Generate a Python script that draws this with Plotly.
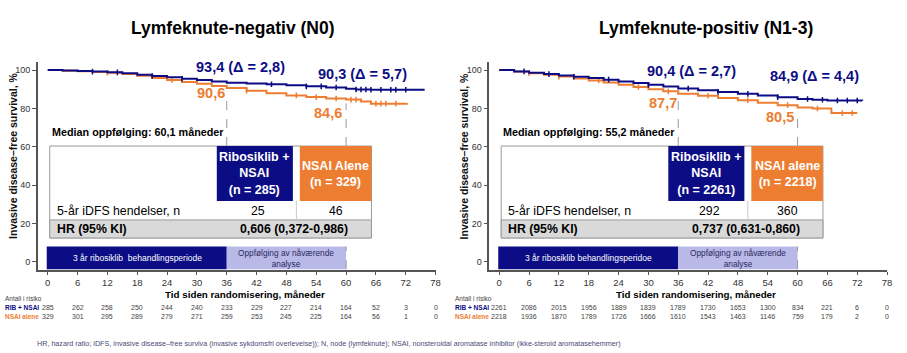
import plotly.graph_objects as go

W, H = 907, 353
FONT = "Liberation Sans, Arial, sans-serif"
NAVY = "#0c0c85"
ORANGE = "#ED7D31"
LAV = "#b9b9e8"
GRAYROW = "#d9d9d9"

# ---------------- data ----------------
tick_months = [0, 6, 12, 18, 24, 30, 36, 42, 48, 54, 60, 66, 72, 78]

titles = ["Lymfeknute-negativ (N0)", "Lymfeknute-positiv (N1-3)"]
median_text = ["Median oppfølging: 60,1 måneder", "Median oppfølging: 55,2 måneder"]

n0_rib_t = [0, 3, 6, 9, 12, 15, 18, 21, 24, 27, 30, 33, 36, 40, 44, 48, 52, 56, 60, 62, 65, 75.8]
n0_rib_s = [100, 99.8, 99.5, 99.2, 98.8, 98.3, 97.6, 96.9, 96.2, 95.5, 94.8, 94.1, 93.4, 93.0, 92.6, 92.1, 91.5, 90.9, 90.3, 89.9, 89.7, 89.7]
n0_nsai_t = [0, 3, 6, 9, 12, 15, 18, 21, 24, 27, 30, 33, 36, 40, 44, 48, 52, 56, 60, 63, 65, 72.4]
n0_nsai_s = [100, 99.7, 99.4, 99.0, 98.6, 98.0, 97.0, 95.8, 94.8, 93.8, 92.8, 91.7, 90.6, 89.2, 87.9, 86.8, 85.9, 85.2, 84.6, 83.6, 82.5, 82.5]
n0_rib_cens = [9, 14, 21, 27, 45, 52, 55, 58, 62, 63, 64, 65, 67, 69, 70, 72]
n0_nsai_cens = [12, 25, 40, 50, 54, 58, 61, 62, 66, 67, 68, 70]

n1_rib_t = [0, 3, 6, 9, 12, 15, 18, 21, 24, 27, 30, 33, 36, 40, 44, 48, 52, 56, 60, 63, 66, 73]
n1_rib_s = [100, 99.3, 98.6, 97.9, 97.2, 96.5, 95.8, 95.0, 94.1, 93.2, 92.3, 91.4, 90.4, 89.5, 88.6, 87.6, 86.7, 85.8, 84.9, 84.5, 84.1, 84.0]
n1_nsai_t = [0, 3, 6, 9, 12, 15, 18, 21, 24, 27, 30, 33, 36, 40, 44, 48, 52, 56, 60, 63, 66.8, 72]
n1_nsai_s = [100, 99.2, 98.3, 97.5, 96.6, 95.6, 94.6, 93.5, 92.3, 91.2, 90.0, 88.9, 87.7, 86.6, 85.4, 84.3, 83.0, 81.7, 80.5, 80.0, 77.6, 77.6]
n1_rib_cens = [5, 10, 15, 22, 30, 38, 44, 50, 56, 62, 65, 68, 70, 72]
n1_nsai_cens = [6, 12, 20, 28, 34, 42, 50, 58, 64, 69, 71]

curve_labels = [
    dict(rib3="93,4 (Δ = 2,8)", rib5="90,3 (Δ = 5,7)", nsai3="90,6", nsai5="84,6"),
    dict(rib3="90,4 (Δ = 2,7)", rib5="84,9 (Δ = 4,4)", nsai3="87,7", nsai5="80,5"),
]
header_rib = ["Ribosiklib +<br>NSAI<br>(n = 285)", "Ribosiklib +<br>NSAI<br>(n = 2261)"]
header_nsai = ["NSAI Alene<br>(n = 329)", "NSAI alene<br>(n = 2218)"]
events_rib = ["25", "292"]
events_nsai = ["46", "360"]
hr_text = ["0,606 (0,372-0,986)", "0,737 (0,631-0,860)"]
band_text = ["3 år ribosiklib  behandlingsperiode", "3 år ribosiklib behandlingsperidoe"]

risk_n0_rib = [285, 262, 258, 250, 244, 240, 233, 229, 227, 214, 164, 52, 3, 0]
risk_n0_nsai = [329, 301, 295, 289, 279, 271, 259, 253, 245, 225, 164, 56, 1, 0]
risk_n1_rib = [2261, 2086, 2015, 1956, 1889, 1839, 1789, 1730, 1653, 1300, 834, 221, 6, 0]
risk_n1_nsai = [2218, 1936, 1870, 1789, 1726, 1666, 1610, 1543, 1463, 1146, 759, 179, 2, 0]

footnote = ("HR, hazard ratio; iDFS, invasive disease–free surviva (invasive sykdomsfri overlevelse)); "
            "N, node (lymfeknute); NSAI, nonsteroidal aromatase inhibitor (ikke-steroid aromatasehemmer)")

# ---------------- helpers ----------------
def pxx(p):
    return p / W

def pxy(p):
    return 1 - p / H

def step_val(ts, ss, t):
    v = ss[0]
    for ti, si in zip(ts, ss):
        if ti <= t:
            v = si
    return v

def f(size, color="black"):
    return dict(family=FONT, size=size, color=color)

fig = go.Figure()

panels = [
    dict(xa="x", ya="y", ax0=38, tcx=234.5, ytx=13, lab_x=3,
         rib=(n0_rib_t, n0_rib_s, n0_rib_cens), nsai=(n0_nsai_t, n0_nsai_s, n0_nsai_cens),
         risk=(risk_n0_rib, risk_n0_nsai),
         lab_y=dict(rib3=101.6, rib5=98.2, nsai3=88.3, nsai5=77.4)),
    dict(xa="x2", ya="y2", ax0=492, tcx=710, ytx=467, lab_x=456,
         rib=(n1_rib_t, n1_rib_s, n1_rib_cens), nsai=(n1_nsai_t, n1_nsai_s, n1_nsai_cens),
         risk=(risk_n1_rib, risk_n1_nsai),
         lab_y=dict(rib3=99.6, rib5=96.9, nsai3=82.8, nsai5=75.4)),
]

shapes = []
ann = []

for i, p in enumerate(panels):
    xa, ya = p["xa"], p["ya"]
    for (t, s, cens), col in [(p["nsai"], ORANGE), (p["rib"], NAVY)]:
        fig.add_trace(go.Scatter(x=t, y=s, mode="lines", line=dict(color=col, width=2, shape="hv"),
                                 xaxis=xa, yaxis=ya, showlegend=False, hoverinfo="skip"))
        fig.add_trace(go.Scatter(x=cens, y=[step_val(t, s, c) for c in cens], mode="markers",
                                 marker=dict(symbol="line-ns-open", size=4, color=col,
                                             line=dict(color=col, width=1.5)),
                                 xaxis=xa, yaxis=ya, showlegend=False, hoverinfo="skip"))

    nsai_t, nsai_s, _ = p["nsai"]
    for m in (36, 60):
        shapes.append(dict(type="line", xref=xa, yref=ya, x0=m, x1=m,
                           y0=60.4, y1=step_val(nsai_t, nsai_s, m) - 2,
                           line=dict(color="#9a9a9a", width=1, dash="dash")))
    # table
    shapes.append(dict(type="rect", xref=xa, yref=ya, x0=0.4, x1=65.1, y0=12.5, y1=60.4,
                       line=dict(color="#9a9a9a", width=1), fillcolor="white", layer="above"))
    shapes.append(dict(type="rect", xref=xa, yref=ya, x0=0.4, x1=65.1, y0=12.5, y1=21.9,
                       line=dict(color="#9a9a9a", width=1), fillcolor=GRAYROW, layer="above"))
    shapes.append(dict(type="rect", xref=xa, yref=ya, x0=34, x1=49.3, y0=31.8, y1=60.4,
                       line=dict(width=0), fillcolor=NAVY, layer="above"))
    shapes.append(dict(type="rect", xref=xa, yref=ya, x0=50.7, x1=65.1, y0=31.8, y1=60.4,
                       line=dict(width=0), fillcolor=ORANGE, layer="above"))
    shapes.append(dict(type="line", xref=xa, yref=ya, x0=50, x1=50, y0=21.9, y1=31.8,
                       line=dict(color="#c8c8c8", width=1), layer="above"))
    # bands
    shapes.append(dict(type="rect", xref=xa, yref=ya, x0=-0.2, x1=36, y0=-3.8, y1=8.0,
                       line=dict(width=0), fillcolor=NAVY))
    shapes.append(dict(type="rect", xref=xa, yref=ya, x0=36, x1=60, y0=-3.8, y1=8.0,
                       line=dict(width=0), fillcolor=LAV))
    shapes.append(dict(type="line", xref=xa, yref=ya, x0=60, x1=60, y0=-3.8, y1=8.0,
                       line=dict(color="#9a9a9a", width=1, dash="dash")))

    lab = curve_labels[i]
    ly = p["lab_y"]
    ann += [
        dict(text="<b>%s</b>" % titles[i], xref="paper", yref="paper", x=pxx(p["tcx"]), y=pxy(28),
             xanchor="center", yanchor="middle", showarrow=False, font=f(17.5)),
        dict(text="<b>%s</b>" % lab["rib3"], xref=xa, yref=ya, x=38.7, y=ly["rib3"], showarrow=False,
             font=f(14.5, NAVY)),
        dict(text="<b>%s</b>" % lab["rib5"], xref=xa, yref=ya, x=63.4, y=ly["rib5"], showarrow=False,
             font=f(14.5, NAVY)),
        dict(text="<b>%s</b>" % lab["nsai3"], xref=xa, yref=ya, x=32.9, y=ly["nsai3"], showarrow=False,
             font=f(14.5, ORANGE)),
        dict(text="<b>%s</b>" % lab["nsai5"], xref=xa, yref=ya, x=56.4, y=ly["nsai5"], showarrow=False,
             font=f(14.5, ORANGE)),
        dict(text="<b>%s</b>" % median_text[i], xref=xa, yref=ya, x=0.4, y=67.7, xanchor="left",
             showarrow=False, font=f(10.8)),
        dict(text="<b>%s</b>" % header_rib[i], xref=xa, yref=ya, x=41.65, y=46.1, showarrow=False,
             font=f(12.5, "white")),
        dict(text="<b>%s</b>" % header_nsai[i], xref=xa, yref=ya, x=57.9, y=45.6, showarrow=False,
             font=f(12.5, "white")),
        dict(text="5-år iDFS hendelser, n", xref=xa, yref=ya, x=1.4, y=26.6, xanchor="left", showarrow=False,
             font=f(12.3)),
        dict(text="<b>HR (95% KI)</b>", xref=xa, yref=ya, x=1.4, y=17.2, xanchor="left", showarrow=False,
             font=f(12.3)),
        dict(text=events_rib[i], xref=xa, yref=ya, x=42.3, y=26.6, showarrow=False, font=f(12.3)),
        dict(text=events_nsai[i], xref=xa, yref=ya, x=57.9, y=26.6, showarrow=False, font=f(12.3)),
        dict(text="<b>%s</b>" % hr_text[i], xref=xa, yref=ya, x=49.6, y=17.2, showarrow=False, font=f(12.3)),
        dict(text=band_text[i], xref=xa, yref=ya, x=18, y=2.1, showarrow=False, font=f(8.5, "white")),
        dict(text="Oppfølging av nåværende<br>analyse", xref=xa, yref=ya, x=48, y=2.0, showarrow=False,
             font=f(8.3, "#2a2a60")),
        dict(text="<b>Tid siden randomisering, måneder</b>", xref="paper", yref="paper",
             x=pxx(p["ax0"] + 208), y=pxy(294.5), xanchor="center", yanchor="middle", showarrow=False,
             font=f(9.8)),
        dict(text="<b>Invasive disease–free survival, %</b>", xref="paper", yref="paper",
             x=pxx(p["ytx"]), y=pxy(156), xanchor="center", yanchor="middle", textangle=-90,
             showarrow=False, font=f(10.5, "#111")),
        dict(text="Antall i risiko", xref="paper", yref="paper", x=pxx(p["lab_x"]), y=pxy(298),
             xanchor="left", yanchor="middle", showarrow=False, font=f(6.5, "#444")),
        dict(text="<b>RIB + NSAI</b>", xref="paper", yref="paper", x=pxx(p["lab_x"]), y=pxy(307),
             xanchor="left", yanchor="middle", showarrow=False, font=f(6.5, NAVY)),
        dict(text="<b>NSAI alene</b>", xref="paper", yref="paper", x=pxx(p["lab_x"]), y=pxy(316),
             xanchor="left", yanchor="middle", showarrow=False, font=f(6.5, ORANGE)),
    ]
    for row, ypx in zip(p["risk"], (307, 316)):
        for m, v in zip(tick_months, row):
            ann.append(dict(text=str(v), xref=xa, yref="paper", x=m, y=pxy(ypx), xanchor="center",
                            yanchor="middle", showarrow=False, font=f(7, "#444")))

ann.append(dict(text=footnote, xref="paper", yref="paper", x=pxx(35), y=pxy(343), xanchor="left",
                yanchor="middle", showarrow=False, font=f(7.2, "#4a4a78")))

axis_common = dict(showline=True, linecolor="#555", linewidth=1.5, ticks="outside", ticklen=3,
                   tickcolor="#555", tickwidth=1.2, showgrid=False, zeroline=False)
xcommon = dict(axis_common, range=[-2, 78], tickvals=tick_months, tickfont=f(9.5, "#333"))
ycommon = dict(axis_common, range=[-4.2, 104.2], tickvals=[0, 20, 40, 60, 80, 100], tickfont=f(9, "#333"),
               ticklen=4)
ydom = [pxy(270), pxy(62)]

fig.update_layout(
    width=W, height=H, margin=dict(l=0, r=0, t=0, b=0),
    paper_bgcolor="white", plot_bgcolor="white",
    xaxis=dict(xcommon, domain=[pxx(38), pxx(438)], anchor="y"),
    yaxis=dict(ycommon, domain=ydom, anchor="x"),
    xaxis2=dict(xcommon, domain=[pxx(492), pxx(892)], anchor="y2"),
    yaxis2=dict(ycommon, domain=ydom, anchor="x2"),
    shapes=shapes, annotations=ann,
)

fig.write_html("out.html")
